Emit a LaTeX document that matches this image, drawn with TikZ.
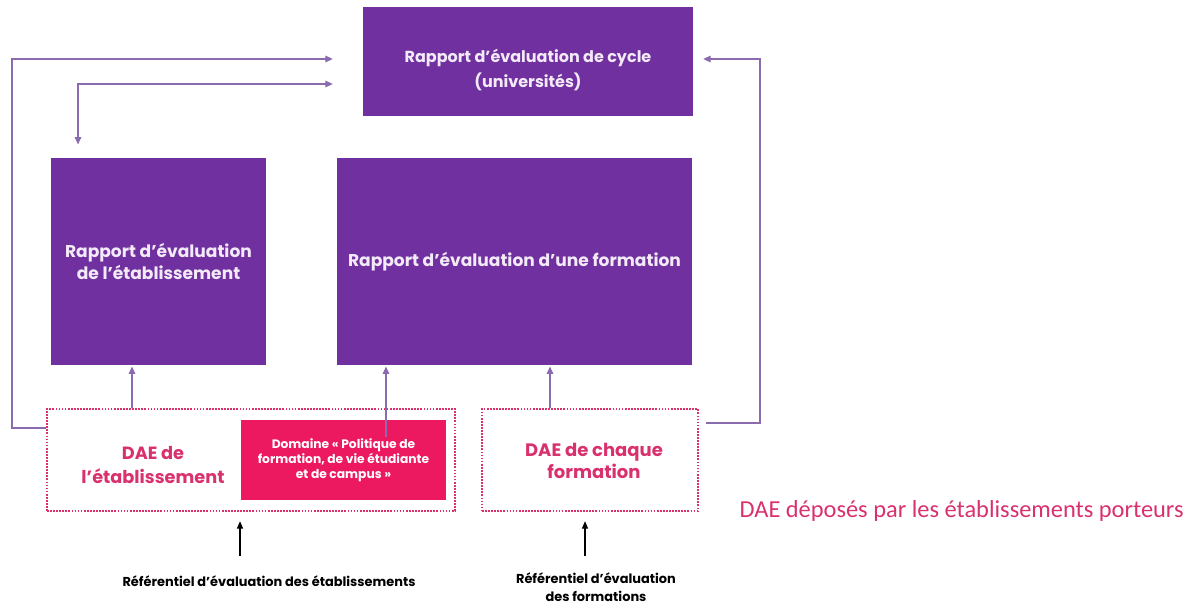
\documentclass[tikz,border=0pt]{standalone}
\usepackage{fontspec}
\setmainfont{Poppins}
\newfontfamily\carlito{Carlito}
\usetikzlibrary{arrows.meta}
\definecolor{rapportpurple}{HTML}{7030A0}
\definecolor{linkpurple}{HTML}{8A6BB0}
\definecolor{daepink}{HTML}{D9306E}
\definecolor{domainepink}{HTML}{EC1860}
\definecolor{rapporttext}{HTML}{F3EAF7}

\begin{document}
\begin{tikzpicture}
  [x=0.75pt, y=-0.75pt,
rapport/.style={fill=rapportpurple, text=rapporttext, font=\bfseries\fontsize{12.8}{16}\selectfont, align=center, inner sep=0pt},
daebox/.style={draw=daepink, densely dotted, line width=1.3pt, inner sep=0pt},
daetext/.style={text=daepink, font=\bfseries\fontsize{13.5}{17}\selectfont, align=center},
link/.style={draw=linkpurple, line width=0.8pt, -{Triangle[length=5.5pt, width=5pt]}},
reflink/.style={draw=black, line width=0.8pt, -{Triangle[length=5.5pt, width=4.5pt]}},
reftext/.style={font=\bfseries\fontsize{9.7}{14}\selectfont, align=center}]
  \useasboundingbox (0,0) rectangle (1195,611);
  % rapports
  \node[rapport, minimum width=247.5pt, minimum height=81.75pt] (cycle) at (528,61.5) {};
  \node[text=rapporttext, font=\bfseries\fontsize{12}{18.75}\selectfont, align=center] (cycleText) at ([yshift=-6pt]cycle.center) {Rapport d’évaluation de cycle\\(universités)};
  \node[rapport, minimum width=161.25pt, minimum height=155.25pt] (etab) at (158.5,261.5) {Rapport d’évaluation\\de l’établissement};
  \node[rapport, minimum width=266.25pt, minimum height=155.25pt] (form) at (514.5,261.5) {Rapport d’évaluation d’une formation};
  % DAE
  \node[daebox, minimum width=306pt, minimum height=76.5pt] (daeEtab) at (251,460) {};
  \node[daebox, minimum width=162pt, minimum height=76.5pt] (daeForm) at (590,460) {};
  \node[fill=domainepink, text=white, font=\bfseries\fontsize{9.2}{11.25}\selectfont, align=center, minimum width=153.75pt, minimum height=60pt, inner sep=0pt] (domaine) at (343.5,460) {Domaine « Politique de\\formation, de vie étudiante\\et de campus »};
  \node[daetext, font=\bfseries\fontsize{13.3}{18}\selectfont] (daeEtabText) at (153,465) {DAE de\\l’établissement};
  \node[daetext] (daeFormText) at (594,461) {DAE de chaque\\formation};
  \node[text=daepink, font=\carlito\fontsize{18.3}{20}\selectfont, anchor=west] (deposes) at (735,511) {DAE déposés par les établissements porteurs};
  % referentiels
  \node[reftext] (refEtab) at (269,581) {Référentiel d’évaluation des établissements};
  \node[reftext] (refForm) at (596,587) {Référentiel d’évaluation\\des formations};
  % points de passage
  \coordinate (gauche) at (12,428);
  \coordinate (haut) at (78,84);
  \coordinate (droite) at (760,423);
  \coordinate (colEtab) at (132,0);
  \coordinate (colDom) at (386,437);
  \coordinate (colForm) at (550,0);
  \coordinate (colRefEtab) at (240,0);
  \coordinate (colRefForm) at (585,0);
  % liaisons
  \draw[link] (daeEtab.west |- gauche) -- (gauche) |- ([xshift=-22.5pt]cycle.west |- 0,59);
  \draw[link, {Triangle[length=5.5pt, width=5pt]}-{Triangle[length=5.5pt, width=5pt]}] ([yshift=10pt]etab.north -| haut) |- ([xshift=-22.5pt]cycle.west |- haut);
  \draw[link] ([xshift=5pt]daeForm.east |- droite) -| (droite |- 0,59) -- ([xshift=7.5pt]cycle.east |- 0,59);
  \draw[link] (daeEtab.north -| colEtab) -- ([yshift=-1pt]etab.south -| colEtab);
  \draw[link] (colDom) -- ([yshift=-1pt]form.south -| colDom);
  \draw[link] (daeForm.north -| colForm) -- ([yshift=-1pt]form.south -| colForm);
  \draw[reflink] ([yshift=-33pt]daeEtab.south -| colRefEtab) -- ([yshift=-7pt]daeEtab.south -| colRefEtab);
  \draw[reflink] ([yshift=-33pt]daeForm.south -| colRefForm) -- ([yshift=-7pt]daeForm.south -| colRefForm);
\end{tikzpicture}
\end{document}
